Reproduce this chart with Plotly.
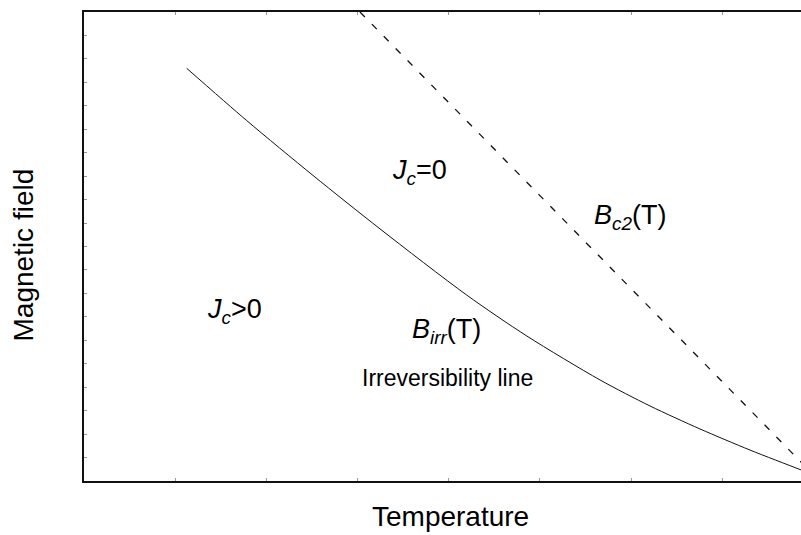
import plotly.graph_objects as go

# Schematic B-T phase diagram of a type-II superconductor (arbitrary units)
temp_irr = [1.126, 1.784, 2.511, 3.246, 4.196, 4.857, 5.658, 6.206, 6.754, 7.303, 7.851, 8.180]
field_irr = [17.60, 15.37, 13.03, 10.75, 7.93, 6.18, 4.31, 3.20, 2.22, 1.32, 0.49, 0.0]

temp_c2 = [3.026, 8.066]
field_c2 = [20.0, 0.0]

x_range = [0, 7.862]
y_range = [0, 20]

FONT = "Liberation Sans, Arial, sans-serif"

fig = go.Figure()

fig.add_trace(go.Scatter(
    x=temp_irr, y=field_irr, mode="lines",
    line=dict(color="#111111", width=1, shape="spline", smoothing=0.8),
    hoverinfo="skip", showlegend=False,
))
fig.add_trace(go.Scatter(
    x=temp_c2, y=field_c2, mode="lines",
    line=dict(color="#111111", width=1.3, dash="7px,10px"),
    hoverinfo="skip", showlegend=False,
))

labels = [
    ("<i>J<sub>c</sub></i>=0", 3.355, 13.18, 27),
    ("<i>J<sub>c</sub></i>>0", 1.327, 7.25, 27),
    ("<i>B<sub>c2</sub></i>(T)", 5.57, 11.26, 27),
    ("<i>B<sub>irr</sub></i>(T)", 3.575, 6.40, 27),
    ("Irreversibility line", 3.026, 4.39, 23),
]
for text, x, y, size in labels:
    fig.add_annotation(
        x=x, y=y, xref="x", yref="y", text=text, showarrow=False,
        xanchor="left", yanchor="middle",
        font=dict(family=FONT, size=size, color="#000000"),
    )

fig.add_annotation(
    x=0.5, y=0, xref="paper", yref="paper", xshift=8, yshift=-35,
    text="Temperature", showarrow=False, xanchor="center", yanchor="middle",
    font=dict(family=FONT, size=28, color="#000000"),
)
fig.add_annotation(
    x=0, y=0.5, xref="paper", yref="paper", xshift=-61, yshift=-9,
    text="Magnetic field", showarrow=False, textangle=-90,
    xanchor="center", yanchor="middle",
    font=dict(family=FONT, size=28, color="#000000"),
)

axis_common = dict(
    showgrid=False, zeroline=False, showticklabels=False,
    showline=True, linecolor="#111111", linewidth=2,
    ticks="inside", ticklen=3, tickwidth=1, tickcolor="#9a9a9a",
    dtick=1, tick0=0, fixedrange=True,
)
fig.update_xaxes(range=x_range, mirror="ticks", **axis_common)
fig.update_yaxes(range=y_range, mirror=False, **axis_common)

fig.update_layout(
    width=801, height=535,
    margin=dict(l=84, r=0, t=12, b=54),
    paper_bgcolor="white", plot_bgcolor="white",
    font=dict(family=FONT),
)

fig.write_html("out.html")
